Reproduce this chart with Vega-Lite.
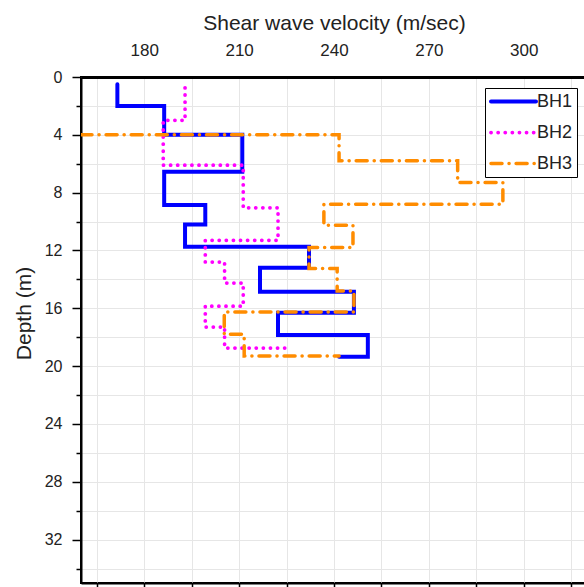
{
  "$schema": "https://vega.github.io/schema/vega-lite/v6.json",
  "width": 506,
  "height": 506,
  "autosize": "none",
  "padding": {"left": 81, "top": 77, "right": 0, "bottom": 4},
  "config": {
    "font": "Liberation Sans",
    "view": {"stroke": "black", "strokeWidth": 2},
    "axis": {"labelFont": "Liberation Sans", "titleFont": "Liberation Sans", "labelColor": "#222", "titleColor": "#222", "titleFontWeight": "normal"}
  },
  "data": {
    "values": [
      {"series": "BH1", "i": 1, "v": 171.5, "d": 0.5},
      {"series": "BH1", "i": 2, "v": 171.5, "d": 2.0},
      {"series": "BH1", "i": 3, "v": 186.3, "d": 2.0},
      {"series": "BH1", "i": 4, "v": 186.3, "d": 4.0},
      {"series": "BH1", "i": 5, "v": 211.0, "d": 4.0},
      {"series": "BH1", "i": 6, "v": 211.0, "d": 6.55},
      {"series": "BH1", "i": 7, "v": 186.3, "d": 6.55},
      {"series": "BH1", "i": 8, "v": 186.3, "d": 8.85},
      {"series": "BH1", "i": 9, "v": 199.3, "d": 8.85},
      {"series": "BH1", "i": 10, "v": 199.3, "d": 10.2},
      {"series": "BH1", "i": 11, "v": 192.9, "d": 10.2},
      {"series": "BH1", "i": 12, "v": 192.9, "d": 11.75},
      {"series": "BH1", "i": 13, "v": 232.1, "d": 11.75},
      {"series": "BH1", "i": 14, "v": 232.1, "d": 13.2},
      {"series": "BH1", "i": 15, "v": 216.6, "d": 13.2},
      {"series": "BH1", "i": 16, "v": 216.6, "d": 14.85},
      {"series": "BH1", "i": 17, "v": 246.3, "d": 14.85},
      {"series": "BH1", "i": 18, "v": 246.3, "d": 16.3},
      {"series": "BH1", "i": 19, "v": 222.3, "d": 16.3},
      {"series": "BH1", "i": 20, "v": 222.3, "d": 17.85},
      {"series": "BH1", "i": 21, "v": 250.7, "d": 17.85},
      {"series": "BH1", "i": 22, "v": 250.7, "d": 19.35},
      {"series": "BH1", "i": 23, "v": 241.6, "d": 19.35},
      {"series": "BH2", "i": 1, "v": 192.9, "d": 0.75},
      {"series": "BH2", "i": 2, "v": 192.9, "d": 3.0},
      {"series": "BH2", "i": 3, "v": 186.0, "d": 3.0},
      {"series": "BH2", "i": 4, "v": 186.0, "d": 6.1},
      {"series": "BH2", "i": 5, "v": 211.3, "d": 6.1},
      {"series": "BH2", "i": 6, "v": 211.3, "d": 9.05},
      {"series": "BH2", "i": 7, "v": 222.3, "d": 9.05},
      {"series": "BH2", "i": 8, "v": 222.3, "d": 11.3},
      {"series": "BH2", "i": 9, "v": 199.3, "d": 11.3},
      {"series": "BH2", "i": 10, "v": 199.3, "d": 12.8},
      {"series": "BH2", "i": 11, "v": 205.4, "d": 12.8},
      {"series": "BH2", "i": 12, "v": 205.4, "d": 14.25},
      {"series": "BH2", "i": 13, "v": 211.3, "d": 14.25},
      {"series": "BH2", "i": 14, "v": 211.3, "d": 15.85},
      {"series": "BH2", "i": 15, "v": 199.3, "d": 15.85},
      {"series": "BH2", "i": 16, "v": 199.3, "d": 17.3},
      {"series": "BH2", "i": 17, "v": 205.4, "d": 17.3},
      {"series": "BH2", "i": 18, "v": 205.4, "d": 18.75},
      {"series": "BH2", "i": 19, "v": 225.2, "d": 18.75},
      {"series": "BH3", "i": 1, "v": 160.0, "d": 4.0},
      {"series": "BH3", "i": 2, "v": 241.6, "d": 4.0},
      {"series": "BH3", "i": 3, "v": 241.6, "d": 5.8},
      {"series": "BH3", "i": 4, "v": 279.1, "d": 5.8},
      {"series": "BH3", "i": 5, "v": 279.1, "d": 7.3},
      {"series": "BH3", "i": 6, "v": 293.4, "d": 7.3},
      {"series": "BH3", "i": 7, "v": 293.4, "d": 8.8},
      {"series": "BH3", "i": 8, "v": 236.8, "d": 8.8},
      {"series": "BH3", "i": 9, "v": 236.8, "d": 10.25},
      {"series": "BH3", "i": 10, "v": 246.0, "d": 10.25},
      {"series": "BH3", "i": 11, "v": 246.0, "d": 11.8},
      {"series": "BH3", "i": 12, "v": 232.1, "d": 11.8},
      {"series": "BH3", "i": 13, "v": 232.1, "d": 13.25},
      {"series": "BH3", "i": 14, "v": 241.0, "d": 13.25},
      {"series": "BH3", "i": 15, "v": 241.0, "d": 14.8},
      {"series": "BH3", "i": 16, "v": 246.3, "d": 14.8},
      {"series": "BH3", "i": 17, "v": 246.3, "d": 16.25},
      {"series": "BH3", "i": 18, "v": 205.3, "d": 16.25},
      {"series": "BH3", "i": 19, "v": 205.3, "d": 17.8},
      {"series": "BH3", "i": 20, "v": 211.6, "d": 17.8},
      {"series": "BH3", "i": 21, "v": 211.6, "d": 19.3},
      {"series": "BH3", "i": 22, "v": 241.6, "d": 19.3}
    ]
  },
  "layer": [
    {
      "mark": {"type": "line", "opacity": 0},
      "encoding": {
        "x": {
          "field": "v", "type": "quantitative",
          "scale": {"domain": [160, 320], "nice": false, "zero": false},
          "axis": {
            "orient": "bottom", "title": null,
            "values": [165, 180, 195, 210, 225, 240, 255, 270, 285, 300, 315],
            "labels": false, "grid": false, "ticks": true, "tickSize": 4, "tickColor": "black", "tickWidth": 1.5,
            "domainColor": "black", "domainWidth": 2
          }
        },
        "y": {
          "field": "d", "type": "quantitative",
          "scale": {"domain": [0, 35], "nice": false, "zero": false, "reverse": true},
          "axis": {
            "title": "Depth (m)", "titleFontSize": 21, "titlePadding": 10, "titleY": 236,
            "values": [0, 2, 4, 6, 8, 10, 12, 14, 16, 18, 20, 22, 24, 26, 28, 30, 32, 34],
            "labelExpr": "datum.value % 4 === 0 ? datum.label : ''",
            "labelFontSize": 16, "labelPadding": 10,
            "tickSize": {"condition": {"test": "datum.value % 4 === 0", "value": 9}, "value": 5},
            "tickColor": "black", "tickWidth": 1.5,
            "domainColor": "black", "domainWidth": 2,
            "grid": true, "gridColor": "#e6e6e6", "gridWidth": 1
          }
        },
        "detail": {"field": "series", "type": "nominal"},
        "order": {"field": "i", "type": "quantitative"}
      }
    },
    {
      "mark": {"type": "line", "strokeCap": "round", "strokeJoin": "miter", "clip": true},
      "encoding": {
        "x": {
          "field": "v", "type": "quantitative",
          "scale": {"domain": [160, 320], "nice": false, "zero": false},
          "axis": {
            "orient": "top", "title": "Shear wave velocity (m/sec)", "titleFontSize": 21, "titlePadding": 8,
            "values": [165, 180, 195, 210, 225, 240, 255, 270, 285, 300, 315],
            "labelExpr": "datum.value % 30 === 0 ? datum.label : ''",
            "labelFontSize": 17, "labelPadding": 18, "ticks": false, "tickSize": 0,
            "grid": true, "gridColor": "#e6e6e6", "gridWidth": 1,
            "domainColor": "black", "domainWidth": 3
          }
        },
        "y": {
          "field": "d", "type": "quantitative",
          "scale": {"domain": [0, 35], "nice": false, "zero": false, "reverse": true},
          "axis": {
            "title": "Depth (m)", "titleFontSize": 21, "titlePadding": 10, "titleY": 236,
            "values": [0, 2, 4, 6, 8, 10, 12, 14, 16, 18, 20, 22, 24, 26, 28, 30, 32, 34],
            "labelExpr": "datum.value % 4 === 0 ? datum.label : ''",
            "labelFontSize": 16, "labelPadding": 10,
            "tickSize": {"condition": {"test": "datum.value % 4 === 0", "value": 9}, "value": 5},
            "tickColor": "black", "tickWidth": 1.5,
            "domainColor": "black", "domainWidth": 2,
            "grid": true, "gridColor": "#e6e6e6", "gridWidth": 1
          }
        },
        "color": {
          "field": "series", "type": "nominal",
          "scale": {"domain": ["BH1", "BH2", "BH3"], "range": ["#0000ff", "#ff00ff", "#ff8c00"]},
          "legend": {
            "orient": "none", "legendX": 404, "legendY": 11, "title": null,
            "labelFontSize": 18, "labelFont": "Liberation Sans", "labelColor": "#222",
            "symbolType": "M-1,0H5", "symbolSize": 225, "symbolStrokeWidth": 3.5,
            "labelOffset": 29, "padding": 4, "rowPadding": 12,
            "strokeColor": "black", "fillColor": "white",
            "encode": {"symbols": {"update": {"strokeCap": {"value": "round"}}}}
          }
        },
        "strokeDash": {
          "field": "series", "type": "nominal",
          "scale": {"domain": ["BH1", "BH2", "BH3"], "range": [[1, 0], [0.1, 7], [11, 7, 0.1, 7]]},
          "legend": {
            "orient": "none", "legendX": 404, "legendY": 11, "title": null,
            "labelFontSize": 18, "labelFont": "Liberation Sans", "labelColor": "#222",
            "symbolType": "M-1,0H5", "symbolSize": 225, "symbolStrokeWidth": 3.5,
            "labelOffset": 29, "padding": 4, "rowPadding": 12,
            "strokeColor": "black", "fillColor": "white",
            "encode": {"symbols": {"update": {"strokeCap": {"value": "round"}}}}
          }
        },
        "strokeWidth": {
          "field": "series", "type": "ordinal",
          "scale": {"domain": ["BH1", "BH2", "BH3"], "range": [4, 3.5, 4]},
          "legend": null
        },
        "order": {"field": "i", "type": "quantitative"}
      }
    }
  ],
  "resolve": {"axis": {"x": "independent"}}
}
